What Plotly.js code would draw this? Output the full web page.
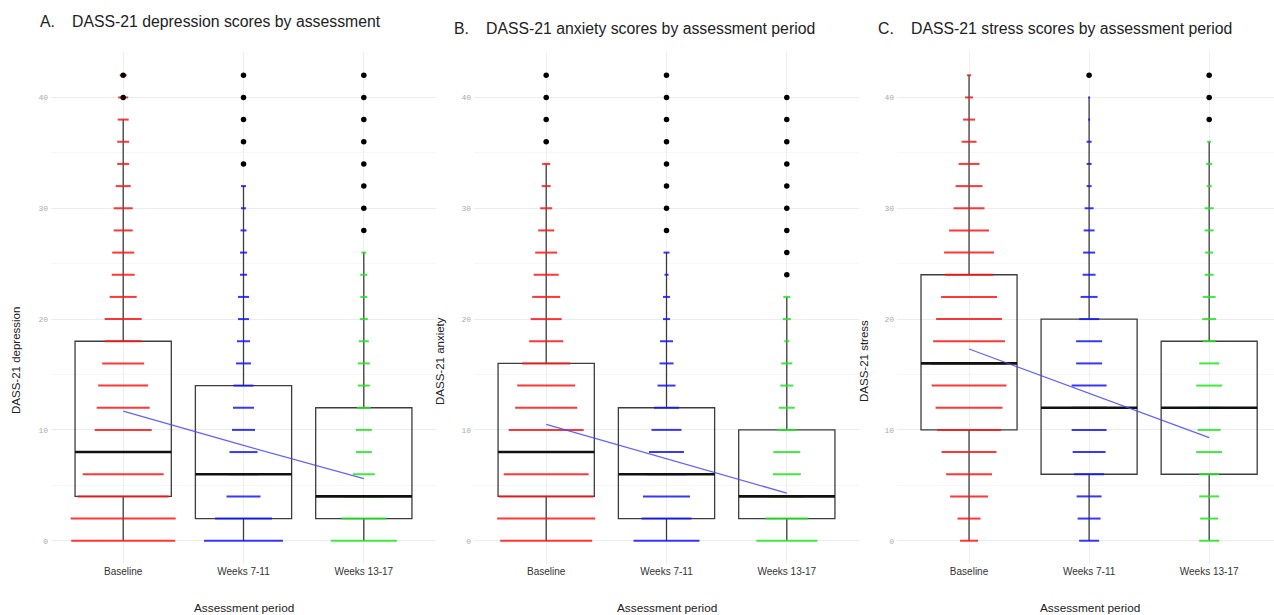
<!DOCTYPE html>
<html><head><meta charset="utf-8">
<script src="https://cdn.plot.ly/plotly-3.0.1.min.js"></script>
<style>html,body{margin:0;padding:0;background:#fff;} #chart{width:1274px;height:615px;}</style>
</head><body><div id="chart"></div>
<script>
// ---------- data ----------
const periods = ['Baseline', 'Weeks 7-11', 'Weeks 13-17'];
const periodPos = [1, 2, 3];
const scoreLevels = [0,2,4,6,8,10,12,14,16,18,20,22,24,26,28,30,32,34,36,38,40,42];

// Depression
const depQ1 = [4, 2, 2];
const depMedian = [8, 6, 4];
const depQ3 = [18, 14, 12];
const depLowerWhisker = [0, 0, 0];
const depUpperWhisker = [38, 32, 26];
const depMean = [11.7, 8.6, 5.6];
const depOutliersBaseline = [40, 42];
const depOutliersW7 = [34, 36, 38, 40, 42];
const depOutliersW13 = [28, 30, 32, 34, 36, 38, 40, 42];
// relative frequency of each score level (drawn as dash length)
const depFreqBaseline = [104,105,91,81,75,57,53,50,42,37,37,27,23,22,19,19,15,12,12,11,10,7];
const depFreqW7 = [79,57,34,30,28,23,21,20,15,13,11,11,7,7,6,5,5,3,3,3,3,3];
const depFreqW13 = [66,45,40,22,16,16,14,12,12,10,8,7,7,5,3,3,3,3,3,3,3,3];

// Anxiety
const anxQ1 = [4, 2, 2];
const anxMedian = [8, 6, 4];
const anxQ3 = [16, 12, 10];
const anxLowerWhisker = [0, 0, 0];
const anxUpperWhisker = [34, 26, 22];
const anxMean = [10.5, 7.4, 4.3];
const anxOutliersBaseline = [36, 38, 40, 42];
const anxOutliersW7 = [28, 30, 32, 34, 36, 38, 40, 42];
const anxOutliersW13 = [24, 26, 28, 30, 32, 34, 36, 38, 40];
const anxFreqBaseline = [92,98,95,85,80,75,62,58,48,34,31,28,25,22,16,12,9,8,5,3,3,3];
const anxFreqW7 = [66,50,47,40,35,30,25,18,14,13,7,7,4,6,3,3,3,3,3,3,3,3];
const anxFreqW13 = [61,43,35,28,27,20,16,13,11,5,8,7,3,3,3,3,3,3,3,3,3,0];

// Stress
const strQ1 = [10, 6, 6];
const strMedian = [16, 12, 12];
const strQ3 = [24, 20, 18];
const strLowerWhisker = [0, 0, 0];
const strUpperWhisker = [42, 40, 36];
const strMean = [17.3, 13.3, 9.3];
const strOutliersBaseline = [];
const strOutliersW7 = [42];
const strOutliersW13 = [38, 40, 42];
const strFreqBaseline = [18,23,38,46,55,64,67,75,75,72,66,56,48,50,40,31,27,21,15,12,8,4];
const strFreqW7 = [20,23,25,30,33,35,35,35,26,26,20,17,13,12,11,9,5,5,5,2,2,3];
const strFreqW13 = [20,18,20,20,26,23,24,26,20,13,14,13,9,8,9,9,5,6,4,3,3,3];

const panelLetters = ['A.', 'B.', 'C.'];
const panelTitles = ['DASS-21 depression scores by assessment',
                     'DASS-21 anxiety scores by assessment period',
                     'DASS-21 stress scores by assessment period'];
const yTitles = ['DASS-21 depression', 'DASS-21 anxiety', 'DASS-21 stress'];
const xTitle = 'Assessment period';
const yTicks = [0, 10, 20, 30, 40];

// ---------- styling / layout ----------
const W = 1274, H = 615;
const dashColors = ['rgba(255,20,20,0.85)', 'rgba(20,20,255,0.85)', 'rgba(30,230,30,0.85)'];
const freqScale = 1 / 120.3; // frequency index -> x units
const panels = [
  {q1: depQ1, med: depMedian, q3: depQ3, lo: depLowerWhisker, hi: depUpperWhisker, mean: depMean,
   out: [depOutliersBaseline, depOutliersW7, depOutliersW13], freq: [depFreqBaseline, depFreqW7, depFreqW13],
   dom: [51, 436], range: [0.4, 3.6], letterX: 38, titleX: 70, titleY: 22, yTitleX: 16},
  {q1: anxQ1, med: anxMedian, q3: anxQ3, lo: anxLowerWhisker, hi: anxUpperWhisker, mean: anxMean,
   out: [anxOutliersBaseline, anxOutliersW7, anxOutliersW13], freq: [anxFreqBaseline, anxFreqW7, anxFreqW13],
   dom: [474, 859], range: [0.4, 3.6], letterX: 452, titleX: 484, titleY: 29, yTitleX: 440},
  {q1: strQ1, med: strMedian, q3: strQ3, lo: strLowerWhisker, hi: strUpperWhisker, mean: strMean,
   out: [strOutliersBaseline, strOutliersW7, strOutliersW13], freq: [strFreqBaseline, strFreqW7, strFreqW13],
   dom: [897, 1274], range: [0.4, 3.54], letterX: 876, titleX: 909, titleY: 29, yTitleX: 864}
];
const plotTop = 52, plotBottom = 564;

const traces = [];
const layout = {
  width: W, height: H, margin: {l: 0, r: 0, t: 0, b: 0},
  paper_bgcolor: '#fff', plot_bgcolor: '#fff', showlegend: false,
  font: {family: 'Liberation Sans, Arial, sans-serif', color: '#222'},
  annotations: []
};

panels.forEach((p, i) => {
  const s = i === 0 ? '' : String(i + 1);
  const xa = 'x' + s, ya = 'y' + s;
  // frequency dashes
  for (let g = 0; g < 3; g++) {
    const xs = [], ys = [];
    scoreLevels.forEach((lv, k) => {
      const f = p.freq[g][k];
      if (!f) return;
      const hw = f * freqScale / 2;
      xs.push(periodPos[g] - hw, periodPos[g] + hw, null);
      ys.push(lv, lv, null);
    });
    traces.push({type: 'scatter', mode: 'lines', x: xs, y: ys, xaxis: xa, yaxis: ya,
      line: {color: dashColors[g], width: 2}, hoverinfo: 'skip'});
  }
  // boxes
  traces.push({type: 'box', x: periodPos, q1: p.q1, median: p.med, q3: p.q3,
    lowerfence: p.lo, upperfence: p.hi, width: 0.8, whiskerwidth: 0,
    fillcolor: 'rgba(0,0,0,0)', line: {color: 'rgba(40,40,40,0.9)', width: 1.3},
    boxpoints: false, xaxis: xa, yaxis: ya, hoverinfo: 'skip'});
  // thick medians
  const mx = [], my = [];
  p.med.forEach((m, g) => { mx.push(periodPos[g] - 0.4, periodPos[g] + 0.4, null); my.push(m, m, null); });
  traces.push({type: 'scatter', mode: 'lines', x: mx, y: my, xaxis: xa, yaxis: ya,
    line: {color: '#111', width: 2.6}, hoverinfo: 'skip'});
  // outliers
  const ox = [], oy = [];
  p.out.forEach((arr, g) => arr.forEach(v => { ox.push(periodPos[g]); oy.push(v); }));
  traces.push({type: 'scatter', mode: 'markers', x: ox, y: oy, xaxis: xa, yaxis: ya,
    marker: {color: '#000', size: 5.5}, hoverinfo: 'skip'});
  // mean trend line
  traces.push({type: 'scatter', mode: 'lines', x: periodPos, y: p.mean, xaxis: xa, yaxis: ya,
    line: {color: 'rgba(70,70,255,0.85)', width: 1.3}, hoverinfo: 'skip'});

  layout['xaxis' + s] = {
    domain: [p.dom[0] / W, p.dom[1] / W], range: p.range, anchor: ya,
    tickmode: 'array', tickvals: periodPos, ticktext: periods,
    showgrid: true, gridcolor: '#eeeeee', gridwidth: 1, zeroline: false, showline: false,
    ticks: '', tickfont: {size: 10, color: '#333', family: 'Liberation Sans, Arial, sans-serif'}
  };
  layout['yaxis' + s] = {
    domain: [(H - plotBottom) / H, (H - plotTop) / H], range: [-2.1, 44.1], anchor: xa,
    tickmode: 'array', tickvals: yTicks, ticktext: yTicks.map(String),
    showgrid: true, gridcolor: '#ececec', gridwidth: 1, zeroline: false, showline: false,
    minor: {tickvals: [5, 15, 25, 35], showgrid: true, gridcolor: '#f6f6f6', ticks: ''},
    ticks: '', ticklabelstandoff: 2,
    tickfont: {size: 8, color: '#aaa', family: 'Liberation Mono, DejaVu Sans Mono, monospace'}
  };
  layout.annotations.push(
    {xref: 'paper', yref: 'paper', x: p.letterX / W, y: 1 - p.titleY / H, xanchor: 'left', yanchor: 'middle',
     text: panelLetters[i], showarrow: false, font: {size: 15.8, color: '#222'}},
    {xref: 'paper', yref: 'paper', x: p.titleX / W, y: 1 - p.titleY / H, xanchor: 'left', yanchor: 'middle',
     text: panelTitles[i], showarrow: false, font: {size: 15.8, color: '#222'}},
    {xref: 'paper', yref: 'paper', x: p.yTitleX / W, y: 1 - 361 / H, xanchor: 'center', yanchor: 'middle',
     text: yTitles[i], textangle: -90, showarrow: false, font: {size: 11.5, color: '#222'}},
    {xref: 'paper', yref: 'paper', x: ((p.dom[0] + (i === 2 ? 1282 : p.dom[1])) / 2) / W, y: 1 - 608 / H,
     xanchor: 'center', yanchor: 'middle', text: xTitle, showarrow: false, font: {size: 11.8, color: '#222'}}
  );
});

Plotly.newPlot('chart', traces, layout, {displayModeBar: false, staticPlot: true});
</script>
</body></html>
